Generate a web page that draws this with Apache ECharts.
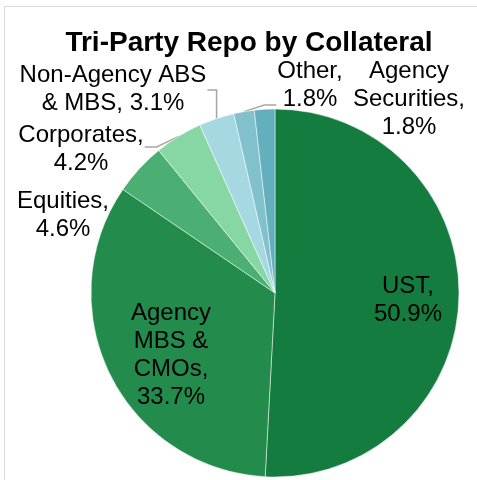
<!DOCTYPE html>
<html>
<head>
<meta charset="utf-8">
<script src="https://cdn.jsdelivr.net/npm/echarts@6/dist/echarts.min.js"></script>
<style>
  html, body { margin: 0; padding: 0; background: #fff; }
  #chart { width: 477px; height: 480px; }
</style>
</head>
<body>
<div id="chart"></div>
<script>
// data, clockwise from 12 o'clock
const categories = ['UST', 'Agency MBS & CMOs', 'Equities', 'Corporates', 'Non-Agency ABS & MBS', 'Other', 'Agency Securities'];
const shares = [50.9, 33.7, 4.6, 4.2, 3.1, 1.8, 1.8];
// label text as broken in the original
const labelTexts = ['UST,\n50.9%', 'Agency\nMBS &\nCMOs,\n33.7%', 'Equities,\n4.6%', 'Corporates,\n4.2%',
    'Non-Agency ABS\n& MBS, 3.1%', 'Other,\n1.8%', 'Agency\nSecurities,\n1.8%'];

const colors = ['#157C3F', '#238B4C', '#4BAE72', '#86D7A4', '#A6D8E2', '#80C1CC', '#63AFBD'];
// label block centres (layout, not data)
const labelPos = [[408, 300], [171, 355], [63, 215], [81, 149], [113, 89], [310, 85], [409, 99]];
// which side of the label the leader line meets: 1 = right edge, -1 = left edge, 0 = none
const leaderSide = [0, 0, 0, 1, 1, -1, 0];
const leaderY = [0, 0, 0, 147, 90, 105, 0];

const chart = echarts.init(document.getElementById('chart'));

const option = {
    backgroundColor: '#fff',
    animation: false,
    title: {
        text: 'Tri-Party Repo by Collateral',
        left: 244,
        top: 24,
        textAlign: 'center',
        textStyle: { fontFamily: 'Liberation Sans', fontWeight: 'bold', fontSize: 28, color: '#000' }
    },
    graphic: [{
        type: 'polyline',
        shape: { points: [[4.5, 480], [4.5, 6.5], [477, 6.5]] },
        style: { stroke: '#D9D9D9', lineWidth: 1, fill: null },
        silent: true
    }],
    series: [{
        type: 'pie',
        center: [275, 293],
        radius: 184,
        startAngle: 90,
        clockwise: true,
        avoidLabelOverlap: false,
        itemStyle: { borderColor: '#fff', borderWidth: 0.5 },
        label: {
            show: true,
            position: 'outside',
            formatter: (p) => labelTexts[p.dataIndex],
            fontFamily: 'Liberation Sans',
            fontSize: 24,
            lineHeight: 28,
            color: '#000',
            align: 'center'
        },
        labelLine: {
            show: true,
            length: 10,
            length2: 10,
            lineStyle: { color: '#A6A6A6', width: 1.5 }
        },
        labelLayout: (params) => {
            const i = params.dataIndex;
            const out = { x: labelPos[i][0], y: labelPos[i][1], align: 'center', verticalAlign: 'middle' };
            const lp = params.labelLinePoints;
            if (leaderSide[i] !== 0 && lp) {
                const start = lp[0];
                const half = params.labelRect.width / 2;
                const ex = labelPos[i][0] + leaderSide[i] * (half + 1);
                const ey = leaderY[i];
                const mid = i === 4 ? [start[0], ey] : [ex + leaderSide[i] * 12, ey];
                out.labelLinePoints = [start, mid, [ex, ey]];
            }
            return out;
        },
        data: shares.map((v, i) => ({
            name: categories[i],
            value: v,
            itemStyle: { color: colors[i] },
            labelLine: { show: leaderSide[i] !== 0 }
        }))
    }]
};

chart.setOption(option);
</script>
</body>
</html>
